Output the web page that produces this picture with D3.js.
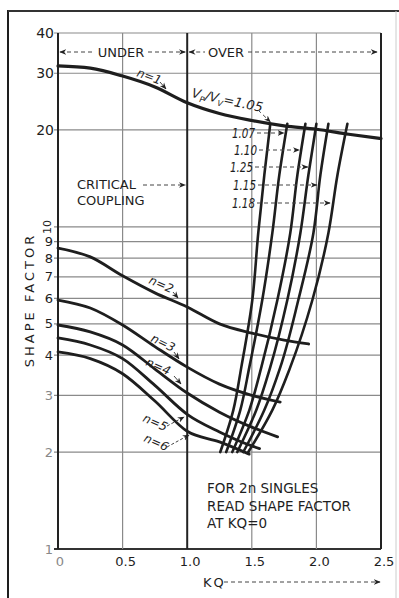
<!DOCTYPE html>
<html><head><meta charset="utf-8">
<script src="https://cdnjs.cloudflare.com/ajax/libs/d3/7.8.5/d3.min.js"></script>
<style>body{margin:0;background:#fff}svg{display:block}</style>
</head><body>
<script>
// ---- data ----
const xTicks = [0, 0.5, 1.0, 1.5, 2.0, 2.5];
const xTickLabels = ["0", "0.5", "1.0", "1.5", "2.0", "2.5"];
const yTicks = [1, 2, 3, 4, 5, 6, 7, 8, 9, 10, 20, 30, 40];
const yTickLabels = ["1", "2", "3", "4", "5", "6", "7", "8", "9", "10", "20", "30", "40"];
const nLabels = ["n=1", "n=2", "n=3", "n=4", "n=5", "n=6"];
const n1 = [[0,31.6],[0.25,31.1],[0.5,29.4],[0.75,27.2],[1.0,24.3],[1.25,22.5],[1.5,21.4],[1.75,20.6],[2.0,20.1],[2.25,19.4],[2.5,18.8]];
const n2 = [[0,8.6],[0.25,8.07],[0.5,7.05],[0.75,6.24],[1.0,5.64],[1.25,5.0],[1.5,4.68],[1.75,4.45],[1.94,4.33]];
const n3 = [[0,5.93],[0.25,5.6],[0.5,4.96],[0.75,4.25],[1.0,3.67],[1.25,3.25],[1.5,3.0],[1.72,2.86]];
const n4 = [[0,4.96],[0.25,4.72],[0.5,4.3],[0.75,3.62],[1.0,3.05],[1.25,2.66],[1.5,2.39],[1.7,2.23]];
const n5 = [[0,4.52],[0.25,4.3],[0.5,3.9],[0.75,3.22],[1.0,2.62],[1.25,2.31],[1.5,2.09],[1.56,2.05]];
const n6 = [[0,4.09],[0.25,3.9],[0.5,3.5],[0.75,2.88],[1.0,2.32],[1.25,2.15],[1.48,1.97]];
const ratioLabels = ["1.05", "1.07", "1.10", "1.25", "1.15", "1.18"];
const vLevels = [20.9, 14.5, 9.58, 5.93, 3.67, 2.70, 2.0];
const v105 = [1.643, 1.597, 1.550, 1.504, 1.419, 1.357, 1.256];
const v107 = [1.775, 1.713, 1.659, 1.581, 1.481, 1.411, 1.302];
const v110 = [1.915, 1.853, 1.798, 1.698, 1.574, 1.481, 1.349];
const v125 = [2.000, 1.938, 1.876, 1.775, 1.643, 1.535, 1.388];
const v115 = [2.093, 2.031, 1.977, 1.860, 1.721, 1.597, 1.434];
const v118 = [2.240, 2.163, 2.093, 1.969, 1.798, 1.659, 1.473];

const W = 399, H = 598;
const svg = d3.select("body").append("svg").attr("width", W).attr("height", H);
const defs = svg.append("defs");
defs.append("marker").attr("id","ah").attr("viewBox","0 0 10 10").attr("refX",9).attr("refY",5)
  .attr("markerWidth",7).attr("markerHeight",7).attr("orient","auto-start-reverse")
  .append("path").attr("d","M0,1 L10,5 L0,9 L3,5 Z").attr("fill","#222");

const x = d3.scaleLinear().domain([0, 2.5]).range([58, 381]);
const y = d3.scaleLog().domain([1, 40]).range([549, 33]);
const font = "'DejaVu Sans', sans-serif";
const ink = "#1e1e1e";

// outer frame
svg.append("line").attr("x1",8).attr("y1",10).attr("x2",8).attr("y2",598).attr("stroke",ink).attr("stroke-width",2);
svg.append("line").attr("x1",8).attr("y1",11).attr("x2",399).attr("y2",11).attr("stroke","#333").attr("stroke-width",2);
svg.append("line").attr("x1",396).attr("y1",11).attr("x2",396).attr("y2",598).attr("stroke","#ccc").attr("stroke-width",1);

// grid
const g = svg.append("g");
g.selectAll("line.h").data(yTicks).join("line").attr("class","h")
  .attr("x1", x(0) - 4).attr("x2", x(2.5))
  .attr("y1", d => y(d)).attr("y2", d => y(d))
  .attr("stroke", d => d === 1 ? "#333" : "#8a8a8a").attr("stroke-width", d => d === 1 ? 2 : 1.2);
g.selectAll("line.v").data(xTicks).join("line").attr("class","v")
  .attr("x1", d => x(d)).attr("x2", d => x(d))
  .attr("y1", y(40)).attr("y2", y(1))
  .attr("stroke", d => (d === 0 || d === 1 || d === 2.5) ? "#222" : "#8a8a8a")
  .attr("stroke-width", d => (d === 0 || d === 1 || d === 2.5) ? 2 : 1.2);

// axis labels
const yl = svg.append("g").attr("font-family", font).attr("fill", ink);
yTicks.forEach((t, i) => {
  const big = t >= 20;
  const txt = yl.append("text").text(yTickLabels[i])
    .attr("text-anchor","end").attr("dominant-baseline","central")
    .attr("font-size", big ? 14 : 13)
    .attr("fill", t <= 3 ? "#888" : ink);
  if (t === 10) {
    txt.attr("transform", `translate(${x(0)-11},${y(t)}) rotate(-90)`).attr("text-anchor","middle").attr("font-size",11);
  } else {
    txt.attr("x", x(0) - (big ? 4 : 5)).attr("y", y(t));
  }
});
xTicks.forEach((t, i) => {
  svg.append("text").text(xTickLabels[i]).attr("x", x(t) + (i === 0 ? 2 : 3)).attr("y", 566)
    .attr("text-anchor","middle").attr("font-family", font).attr("font-size", 13)
    .attr("fill", i === 0 ? "#888" : ink);
});
svg.append("text").text("SHAPE FACTOR").attr("transform","translate(34,300) rotate(-90)")
  .attr("text-anchor","middle").attr("font-family",font).attr("font-size",13)
  .attr("letter-spacing",3).attr("fill",ink);
svg.append("text").text("KQ").attr("x",203).attr("y",587).attr("font-family",font).attr("font-size",13)
  .attr("letter-spacing",2).attr("fill",ink);
svg.append("line").attr("x1",224).attr("y1",582).attr("x2",380).attr("y2",582)
  .attr("stroke","#444").attr("stroke-dasharray","4,3").attr("marker-end","url(#ah)");

// header UNDER / OVER
function dashed(x1,y1,x2,y2,start,end){
  const l = svg.append("line").attr("x1",x1).attr("y1",y1).attr("x2",x2).attr("y2",y2)
    .attr("stroke","#444").attr("stroke-width",1).attr("stroke-dasharray","4,3");
  if (end) l.attr("marker-end","url(#ah)");
  if (start) l.attr("marker-start","url(#ah)");
}
dashed(x(0)+2, 52, 95, 52, true, false);
dashed(148, 52, x(1)-2, 52, false, true);
dashed(x(1)+2, 52, 205, 52, true, false);
dashed(248, 52, x(2.5)-4, 52, false, true);
svg.append("text").text("UNDER").attr("x",121).attr("y",57).attr("text-anchor","middle")
  .attr("font-family",font).attr("font-size",13).attr("fill",ink);
svg.append("text").text("OVER").attr("x",226).attr("y",57).attr("text-anchor","middle")
  .attr("font-family",font).attr("font-size",13).attr("fill",ink);

// curves
const lineN = d3.line().x(d => x(d[0])).y(d => y(d[1])).curve(d3.curveMonotoneX);
const nSeries = [n1, n2, n3, n4, n5, n6];
svg.append("g").selectAll("path").data(nSeries).join("path")
  .attr("d", lineN).attr("fill","none").attr("stroke", ink)
  .attr("stroke-width", (d,i) => i === 0 ? 3.2 : 2.8).attr("stroke-linecap","round");

const vSeries = [v105, v107, v110, v125, v115, v118];
const lineV = d3.line().x(d => x(d[0])).y(d => y(d[1])).curve(d3.curveMonotoneY);
svg.append("g").selectAll("path").data(vSeries.map(s => s.map((xv, j) => [xv, vLevels[j]])))
  .join("path").attr("d", lineV).attr("fill","none").attr("stroke", ink)
  .attr("stroke-width", 2.6).attr("stroke-linecap","round");

// n labels with small arrows
const nLab = [
  {tx:136, ty:76, rot:20, ax:[160,82,166,89]},
  {tx:148, ty:283, rot:24, ax:[173,292,178,298]},
  {tx:150, ty:341, rot:26, ax:[174,352,179,359]},
  {tx:145, ty:365, rot:24, ax:[174,376,181,384]},
  {tx:142, ty:421, rot:24, ax:[167,426,184,417]},
  {tx:143, ty:441, rot:24, ax:[167,447,189,435]}
];
nLab.forEach((p, i) => {
  svg.append("text").text(nLabels[i]).attr("transform",`translate(${p.tx},${p.ty}) rotate(${p.rot})`)
    .attr("font-family",font).attr("font-size",12).attr("font-style","italic").attr("fill",ink);
  svg.append("line").attr("x1",p.ax[0]).attr("y1",p.ax[1]).attr("x2",p.ax[2]).attr("y2",p.ax[3])
    .attr("stroke","#444").attr("stroke-width",1).attr("stroke-dasharray", i >= 4 ? "3,2" : null)
    .attr("marker-end","url(#ah)");
});

// Vp/Vv label
const vt = svg.append("text").attr("transform","translate(191,97) rotate(12)")
  .attr("font-family",font).attr("font-size",13).attr("font-style","italic").attr("fill",ink);
vt.append("tspan").text("V");
vt.append("tspan").text("P").attr("font-size",8).attr("dy",3);
vt.append("tspan").text("/V").attr("dy",-3);
vt.append("tspan").text("V").attr("font-size",8).attr("dy",3);
vt.append("tspan").text("=1.05").attr("dy",-3);
dashed(258, 110, x(v105[0]), y(vLevels[0]) - 2, false, true);

// ratio labels
const rl = [
  {ty:138, tx:232, ex:v107},
  {ty:155, tx:234, ex:v110},
  {ty:172, tx:230, ex:v125},
  {ty:190, tx:233, ex:v115},
  {ty:208, tx:232, ex:v118}
];
rl.forEach((p, i) => {
  svg.append("text").text(ratioLabels[i+1]).attr("x",p.tx).attr("y",p.ty)
    .attr("font-family",font).attr("font-size",14).attr("font-style","italic").attr("fill",ink)
    .attr("textLength",23).attr("lengthAdjust","spacingAndGlyphs");
  const yy = p.ty - 5;
  const xv = p.ex[0] + (p.ex[1]-p.ex[0]) * ((y(vLevels[0]) - yy) / (y(vLevels[0]) - y(vLevels[1])));
  dashed(p.tx + 25, yy, x(xv) - 2, yy, false, true);
});

// critical coupling
svg.append("text").text("CRITICAL").attr("x",77).attr("y",189).attr("font-family",font).attr("font-size",13).attr("fill",ink);
svg.append("text").text("COUPLING").attr("x",77).attr("y",205).attr("font-family",font).attr("font-size",13).attr("fill",ink);
dashed(143, 185, x(1)-2, 185, false, true);

// note
["FOR 2n SINGLES","READ SHAPE FACTOR","AT KQ=0"].forEach((s,i) => {
  svg.append("text").text(s).attr("x",207).attr("y",493 + i*17.5)
    .attr("font-family",font).attr("font-size",13.5).attr("fill",ink);
});
</script>
</body></html>
